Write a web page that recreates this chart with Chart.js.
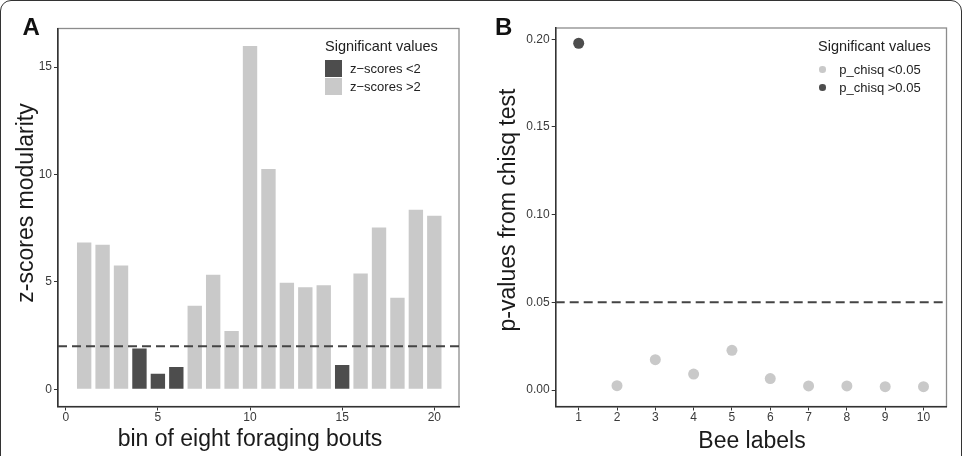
<!DOCTYPE html>
<html>
<head>
<meta charset="utf-8">
<script src="https://cdn.jsdelivr.net/npm/chart.js@4"></script>
<style>
body { margin: 0; background: #fff; font-family: "Liberation Sans", Arial, sans-serif; }
#fig { position: relative; width: 975px; height: 456px; overflow: hidden; }
#outline { position: absolute; left: 0; top: -0.5px; width: 960px; height: 480px;
  border: 1.5px solid #333; border-radius: 11px; }
canvas { position: absolute; top: 0; }
.t { position: absolute; white-space: nowrap; color: #1a1a1a; }
.lbl { font-size: 24px; line-height: 24px; font-weight: bold; color: #111; }
.ax { font-size: 23px; line-height: 23px; }
.rot { transform: translate(-50%, -50%) rotate(-90deg); }
.hc { transform: translateX(-50%); }
.lt { font-size: 14.5px; line-height: 15px; color: #222; }
.li { font-size: 13px; line-height: 13px; color: #222; }
.key { position: absolute; width: 17px; height: 17px; }
.dot { position: absolute; width: 6.6px; height: 6.6px; border-radius: 50%; }
</style>
</head>
<body>
<div id="fig">
  <div id="outline"></div>
  <canvas id="chartA" width="480" height="456" style="left:0"></canvas>
  <canvas id="chartB" width="495" height="456" style="left:480px"></canvas>

  <div class="t lbl" style="left:22.5px; top:14.5px">A</div>
  <div class="t lbl" style="left:495px; top:15px">B</div>

  <div class="t ax rot" style="left:25.2px; top:203px">z-scores modularity</div>
  <div class="t ax hc" style="left:250px; top:427px">bin of eight foraging bouts</div>
  <div class="t ax rot" style="left:506.8px; top:210px">p-values from chisq test</div>
  <div class="t ax hc" style="left:752px; top:428.5px">Bee labels</div>

  <div class="t lt" style="left:325px; top:38.5px">Significant values</div>
  <div class="key" style="left:325px; top:60px; background:#4d4d4d"></div>
  <div class="key" style="left:325px; top:78px; background:#c9c9c9"></div>
  <div class="t li" style="left:350px; top:61.5px">z−scores &lt;2</div>
  <div class="t li" style="left:350px; top:79.5px">z−scores &gt;2</div>

  <div class="t lt" style="left:818px; top:38.5px">Significant values</div>
  <div class="dot" style="left:819.4px; top:66px; background:#c9c9c9"></div>
  <div class="dot" style="left:819.4px; top:84px; background:#4d4d4d"></div>
  <div class="t li" style="left:839.3px; top:62.8px">p_chisq &lt;0.05</div>
  <div class="t li" style="left:839.3px; top:80.8px">p_chisq &gt;0.05</div>
</div>
<script>
// panel A data
var bins = [1, 2, 3, 4, 5, 6, 7, 8, 9, 10, 11, 12, 13, 14, 15, 16, 17, 18, 19, 20];
var zScores = [6.84, 6.73, 5.76, 1.90, 0.73, 1.04, 3.89, 5.34, 2.71, 15.98,
               10.26, 4.96, 4.75, 4.85, 1.13, 5.39, 7.54, 4.26, 8.36, 8.08];
var zThreshold = 2;
var binTicks = [0, 5, 10, 15, 20];
var zTicks = [0, 5, 10, 15];

// panel B data
var bees = [1, 2, 3, 4, 5, 6, 7, 8, 9, 10];
var pValues = [0.1977, 0.0025, 0.0173, 0.0091, 0.0226, 0.0065, 0.0023, 0.0023, 0.0019, 0.0019];
var pThreshold = 0.05;
var pTicks = [0, 0.05, 0.10, 0.15, 0.20];

var dark = "#4d4d4d";
var light = "#c9c9c9";
var tickFont = { family: "Liberation Sans", size: 12 };

Chart.defaults.font.family = "Liberation Sans";

var framePlugin = {
    id: "frame",
    beforeDraw: function (chart) {
        var a = chart.chartArea, ctx = chart.ctx;
        ctx.save();
        ctx.strokeStyle = "#8c8c8c";
        ctx.lineWidth = 1.3;
        ctx.strokeRect(a.left, a.top, a.right - a.left, a.bottom - a.top);
        ctx.restore();
    }
};

function axis(min, max, ticks, size, isX, fmt) {
    return {
        type: "linear",
        min: min,
        max: max,
        offset: false,
        grid: { display: true, drawOnChartArea: false, drawTicks: true, tickLength: 4,
                tickColor: "#333", tickWidth: 1, offset: false },
        border: { display: true, color: "#333", width: 1.5 },
        ticks: { font: tickFont, color: "#3a3a3a", padding: isX ? 0 : 2,
                 autoSkip: false, maxRotation: 0,
                 callback: fmt || function (v) { return v; } },
        afterBuildTicks: function (s) { s.ticks = ticks.map(function (v) { return { value: v }; }); },
        afterFit: function (s) { if (isX) s.height = size; else s.width = size; }
    };
}

// ---- panel A
var xMinA = -0.42, xMaxA = 21.34;
var barData = bins.map(function (b, i) { return { x: b, y: zScores[i] }; });

new Chart(document.getElementById("chartA").getContext("2d"), {
    type: "bar",
    data: {
        datasets: [
            {
                type: "line",
                data: [{ x: xMinA, y: zThreshold }, { x: xMaxA, y: zThreshold }],
                borderColor: "#444",
                borderWidth: 2,
                borderDash: [9, 5],
                pointRadius: 0,
                order: 0
            },
            {
                data: barData,
                backgroundColor: zScores.map(function (z) { return z < zThreshold ? dark : light; }),
                borderWidth: 0,
                categoryPercentage: 1,
                barPercentage: 0.78,
                order: 1
            }
        ]
    },
    options: {
        responsive: false,
        animation: false,
        devicePixelRatio: 1,
        layout: { padding: { left: 0, right: 21, top: 28.5, bottom: 0 } },
        plugins: { legend: { display: false }, tooltip: { enabled: false } },
        scales: {
            x: axis(xMinA, xMaxA, binTicks, 49.5, true),
            y: axis(-0.8, 16.8, zTicks, 58, false)
        }
    },
    plugins: [framePlugin]
});

// ---- panel B
var xMinB = 0.4, xMaxB = 10.6;
var pointData = bees.map(function (b, i) { return { x: b, y: pValues[i] }; });

new Chart(document.getElementById("chartB").getContext("2d"), {
    type: "scatter",
    data: {
        datasets: [
            {
                data: pointData,
                pointBackgroundColor: pValues.map(function (p) { return p > pThreshold ? dark : light; }),
                pointBorderWidth: 0,
                pointRadius: 5.5,
                order: 1
            },
            {
                data: [{ x: xMinB, y: pThreshold }, { x: xMaxB, y: pThreshold }],
                showLine: true,
                borderColor: "#444",
                borderWidth: 2,
                borderDash: [9, 5],
                pointRadius: 0,
                order: 0
            }
        ]
    },
    options: {
        responsive: false,
        animation: false,
        devicePixelRatio: 1,
        layout: { padding: { left: 0, right: 28.5, top: 28, bottom: 0 } },
        plugins: { legend: { display: false }, tooltip: { enabled: false } },
        scales: {
            x: axis(xMinB, xMaxB, bees, 49.5, true),
            y: axis(-0.0094, 0.2064, pTicks, 75.7, false, function (v) { return v.toFixed(2); })
        }
    },
    plugins: [framePlugin]
});
</script>
</body>
</html>
